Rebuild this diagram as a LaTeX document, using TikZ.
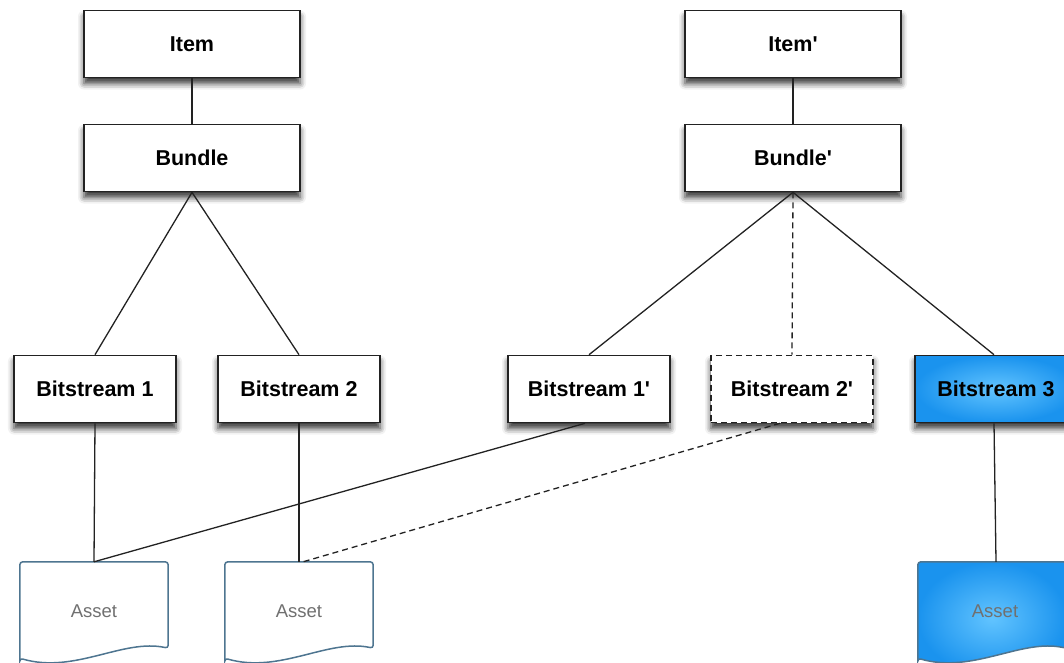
\documentclass[tikz,border=0pt]{standalone}
\usepackage{fontspec}
\setmainfont{Liberation Sans}
\usetikzlibrary{shadows.blur,calc}
\definecolor{boxline}{HTML}{222222}
\definecolor{assetline}{HTML}{4E7590}
\definecolor{blueout}{HTML}{1A93EE}
\definecolor{bluein}{HTML}{62C4FF}
\definecolor{assettext}{HTML}{707070}
\tikzset{
  x=1pt, y=-1pt,
  box/.style={draw=boxline, line width=1.6pt, fill=white, minimum height=67pt,
    inner sep=0pt, font=\fontsize{21.5}{25}\selectfont\bfseries,
    blur shadow={shadow xshift=0pt, shadow yshift=-6pt, shadow blur radius=6pt, shadow opacity=80}},
  wide/.style={box, minimum width=216pt},
  bs/.style={box, minimum width=162pt},
  dashbox/.style={bs, dash pattern=on 6pt off 4pt},
  bluebox/.style={bs, inner color=bluein, outer color=blueout},
  asset/.style={minimum width=148pt, minimum height=98pt, inner sep=0pt,
    font=\fontsize{18.5}{22}\selectfont, text=assettext},
  docline/.style={draw=assetline, line width=1.5pt, rounded corners=3pt},
  conn/.style={draw=boxline, line width=1.3pt},
  dconn/.style={conn, dash pattern=on 6pt off 4pt},
}
\newcommand{\docshape}[2][]{%
  \path[docline,#1] (#2.south west) -- (#2.north west) -- (#2.north east)
    -- ($(#2.south east)+(0,-12)$)
    .. controls ($(#2.south east)+(-45,-22)$) and ($(#2.south west)+(55,14)$) .. ($(#2.south west)+(0,-2)$)
    -- cycle;}
\newcommand{\pr}{\textquotesingle}
\begin{document}
\begin{tikzpicture}
\useasboundingbox (0,0) rectangle (1064,662);
% nodes
\node[wide] (item) at (192,44) {Item};
\node[wide] (bundle) at (192,158) {Bundle};
\node[wide] (itemp) at (793,44) {Item\pr};
\node[wide] (bundlep) at (793,158) {Bundle\pr};
\node[bs] (b1) at (95,389) {Bitstream 1};
\node[bs] (b2) at (299,389) {Bitstream 2};
\node[bs] (b1p) at (589,389) {Bitstream 1\pr};
\node[dashbox] (b2p) at (792,389) {Bitstream 2\pr};
\node[bluebox] (b3) at (996,389) {Bitstream 3};
% assets
\node[asset] (a1) at (94,611) {};
\node[asset] (a2) at (299,611) {};
\node[asset] (a3) at (992,611) {};
\docshape[fill=white]{a1}
\docshape[fill=white]{a2}
\docshape[inner color=bluein, outer color=blueout]{a3}
\node[asset] at (a1.center) {Asset};
\node[asset] at (a2.center) {Asset};
\node[asset] at ([xshift=3pt]a3.center) {Asset};
% connectors
\draw[conn] (item) -- (bundle);
\draw[conn] (itemp) -- (bundlep);
\draw[conn] (bundle.south) -- (b1.north);
\draw[conn] (bundle.south) -- (b2.north);
\draw[conn] (bundlep.south) -- (b1p.north);
\draw[dconn] (bundlep.south) -- (b2p.north);
\draw[conn] (bundlep.south) -- ([xshift=-2pt]b3.north);
\draw[conn] (b1.south) -- (a1.north);
\draw[conn] (b2.south) -- (a2.north);
\draw[conn] ([xshift=-4pt]b1p.south) -- (a1.north);
\draw[dconn] ([xshift=-12pt]b2p.south) -- ([xshift=4pt]a2.north);
\draw[conn] ([xshift=-2pt]b3.south) -- ([xshift=4pt]a3.north);
\end{tikzpicture}
\end{document}
